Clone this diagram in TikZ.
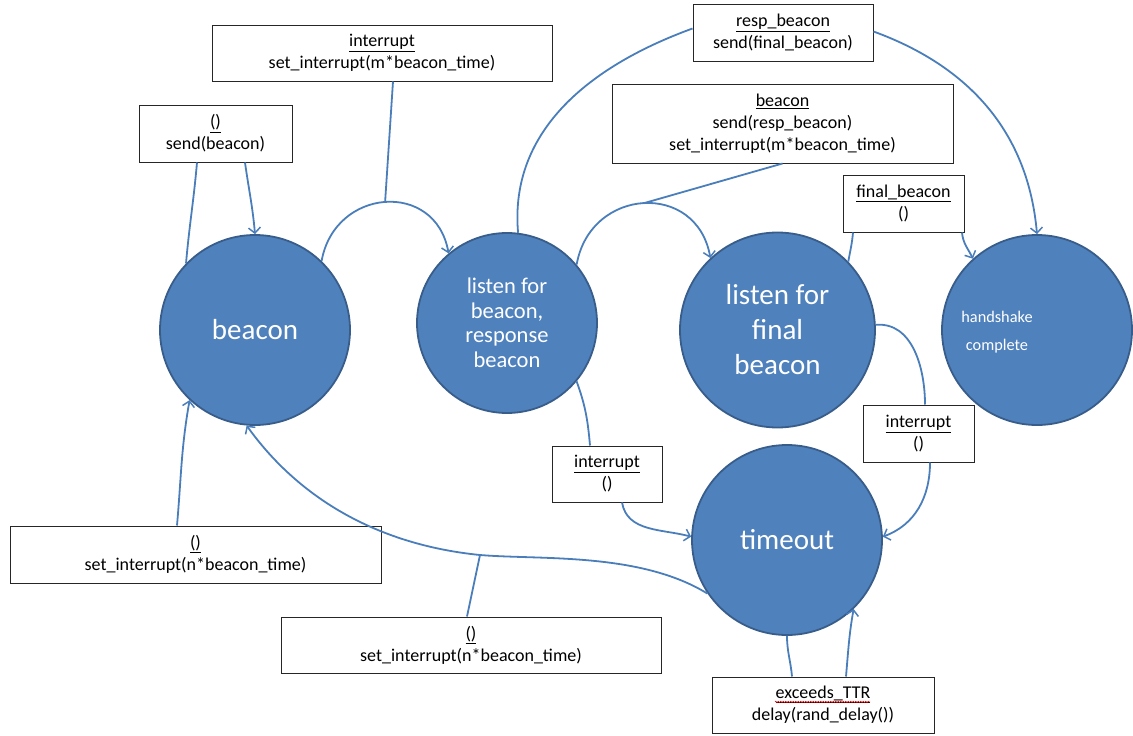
\documentclass[tikz,border=0pt]{standalone}
\usepackage{fontspec}
\setmainfont{Carlito}
\usetikzlibrary{arrows.meta,decorations.pathmorphing}

\definecolor{stateblue}{HTML}{4F81BD}
\definecolor{stateedge}{HTML}{385D8A}
\definecolor{linkblue}{HTML}{4A7EBB}

\begin{document}
\begin{tikzpicture}[
  x=1pt, y=1pt,
  state/.style={circle, fill=stateblue, draw=stateedge, line width=1.8pt,
    text=white, align=center, inner sep=0pt},
  lbl/.style={draw=black!85, fill=white, line width=1pt, align=center,
    inner sep=0pt, font=\fontsize{18}{22}\selectfont},
  conn/.style={draw=linkblue, line width=1.8pt},
  arr/.style={conn, -{Straight Barb[length=5.5pt,width=12pt,line width=1.5pt]}},
]
\useasboundingbox (0,0) rectangle (1133,-736);

% states
\node[state, minimum size=190pt, font=\fontsize{29}{35}\selectfont] (beacon) at (255,-330) {beacon};
\node[state, minimum size=180pt, font=\fontsize{22.5}{24.5}\selectfont] (listen) at (507,-323) {listen for\\beacon,\\response\\beacon};
\node[state, minimum size=195pt, font=\fontsize{29}{35}\selectfont] (final) at (777.5,-330) {listen for\\final\\beacon};
\node[state, minimum size=190pt] (hand) at (1037,-330) {};
\node[text=white, align=center, inner sep=0pt, font=\fontsize{16.3}{28}\selectfont]
  (handText) at ([xshift=-40pt,yshift=-2pt]hand.center) {handshake\\complete};
\node[state, minimum size=190pt, font=\fontsize{29}{35}\selectfont] (timeout) at (787,-540) {timeout};

% transition labels
\node[lbl, minimum width=153pt, minimum height=57pt] (bSelf) at (215.5,-133.5) {\underline{()}\\send(beacon)};
\node[lbl, minimum width=340pt, minimum height=56pt] (bInt) at (382,-53) {\underline{interrupt}\\set\_interrupt(m*beacon\_time)};
\node[lbl, minimum width=180pt, minimum height=57pt] (bResp) at (783,-32.5) {\underline{resp\_beacon}\\send(final\_beacon)};
\node[lbl, minimum width=341pt, minimum height=79pt] (bBcn) at (782.5,-123.5) {\underline{beacon}\\send(resp\_beacon)\\set\_interrupt(m*beacon\_time)};
\node[lbl, minimum width=121pt, minimum height=57pt] (bFinal) at (903.5,-203.5) {\underline{final\_beacon}\\()};
\node[lbl, minimum width=110pt, minimum height=56pt] (bIntL) at (607,-474) {\underline{interrupt}\\()};
\node[lbl, minimum width=111pt, minimum height=57pt] (bIntR) at (918.5,-433.5) {\underline{interrupt}\\()};
\node[lbl, minimum width=371pt, minimum height=57pt] (bN1) at (195.5,-554.5) {\underline{()}\\set\_interrupt(n*beacon\_time)};
\node[lbl, minimum width=380pt, minimum height=56pt] (bN2) at (471,-645) {\underline{()}\\set\_interrupt(n*beacon\_time)};
\node[lbl, minimum width=222pt, minimum height=56pt] (bTTR) at (823,-705) {\underline{exceeds\_TTR}\\delay(rand\_delay())};

% spell-check squiggle under exceeds_TTR
\draw[red!85!black, line width=0.6pt, decorate,
  decoration={snake, amplitude=0.7pt, segment length=2.5pt}]
  ([xshift=-48pt,yshift=3pt]bTTR.center) -- ([xshift=47pt,yshift=3pt]bTTR.center);

% beacon self loop
\draw[conn] (beacon.136) to[out=85,in=-95] ([xshift=-18.5pt]bSelf.south);
\draw[arr] ([xshift=29.5pt]bSelf.south) to[out=-82,in=95] (beacon.north);

% beacon -> listen
\draw[arr] (beacon.46) to[out=80,in=100,looseness=1.5] coordinate[pos=0.5] (intTop) (listen.130);
\draw[conn] (intTop) -- ([xshift=11pt]bInt.south);

% listen -> final
\draw[arr] (listen.40) to[out=80,in=100,looseness=1.5] coordinate[pos=0.5] (bcnTop) (final.133);
\draw[conn] (bcnTop) -- (bBcn.south);

% listen -> handshake
\draw[conn] (listen.83) to[out=95,in=200] ([yshift=4pt]bResp.west);
\draw[arr] ([yshift=1pt]bResp.east) to[out=-20,in=95] (hand.north);

% final -> handshake
\draw[conn] (final.44) to[out=80,in=-95] ([xshift=-50.5pt]bFinal.south);
\draw[arr] ([xshift=58.5pt]bFinal.south) to[out=-85,in=115] (hand.132);

% listen -> timeout
\draw[conn] (listen.-40) to[out=-70,in=95] ([xshift=-17pt]bIntL.north);
\draw[arr] ([xshift=15pt]bIntL.south) to[out=-80,in=165] (timeout.178);

% final -> timeout
\draw[conn] (final.3) to[out=5,in=90] ([xshift=6.5pt]bIntR.north);
\draw[arr] ([xshift=11.5pt]bIntR.south) to[out=-90,in=20] (timeout.2);

% timeout -> beacon
\coordinate (lowMid) at (480,-555);
\draw[conn] (timeout.214) .. controls (640,-552) and (540,-560) .. (lowMid);
\draw[arr] (lowMid) .. controls (380,-545) and (300,-500) .. (beacon.-95);
\draw[conn] (lowMid) -- ([xshift=-4pt]bN2.north);

% start -> beacon
\draw[arr] ([xshift=-18.5pt]bN1.north) to[out=85,in=-100] (beacon.-133);

% timeout self loop
\draw[conn] (timeout.south) to[out=-90,in=95] ([xshift=-31pt]bTTR.north);
\draw[arr] ([xshift=23pt]bTTR.north) to[out=85,in=-100] (timeout.-46);
\end{tikzpicture}
\end{document}
